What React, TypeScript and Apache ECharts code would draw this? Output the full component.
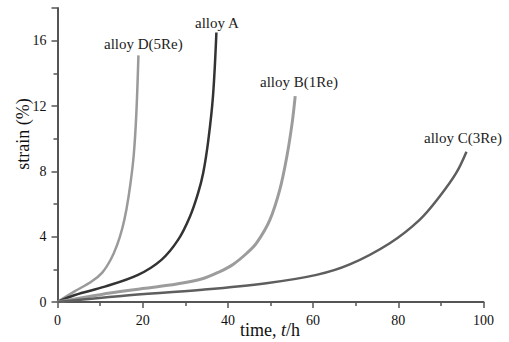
import React, { useEffect, useRef } from "react";
import * as echarts from "echarts";

const alloyD: [number, number][] = [[0,0],[4,0.65],[8,1.25],[10.5,1.8],[12.5,2.6],[14,3.5],[15.2,4.5],[16.2,5.7],[17.1,7.2],[17.9,9.0],[18.5,11.5],[19.0,15.1]];
const alloyA: [number, number][] = [[0,0],[4.1,0.43],[11.1,0.94],[18.9,1.66],[24.4,2.58],[28.3,3.8],[31.1,5.24],[33.0,6.67],[34.2,7.9],[35.4,9.9],[36.5,12.6],[37.3,16.5]];
const alloyB: [number, number][] = [[0,0],[10,0.45],[20,0.82],[28,1.1],[34,1.42],[38,1.85],[41.2,2.3],[44.5,3.0],[46.7,3.6],[49.8,5.0],[52.2,6.9],[53.9,9.0],[55.1,11.0],[55.8,12.6]];
const alloyC: [number, number][] = [[0,0],[15,0.37],[34,0.75],[49,1.15],[60.8,1.66],[68.6,2.3],[78,3.6],[85,5.03],[89.7,6.46],[93.6,7.9],[96,9.2]];

const yMajorTicks = [0, 4, 8, 12, 16, 18];
const yLabels = [0, 4, 8, 12, 16];
const yMinorTicks = [2, 6, 10, 14];

const FONT = "Liberation Serif";
const AXIS = "#555";

export default function App() {
  const ref = useRef<HTMLDivElement>(null);
  useEffect(() => {
    document.body.style.margin = "0";
    const chart = echarts.init(ref.current!, undefined, { renderer: "svg" });
    const line = (name: string, data: [number, number][], color: string, width: number) => ({
      name,
      type: "line",
      data,
      smooth: 0.35,
      showSymbol: false,
      lineStyle: { color, width },
      z: 3,
    });
    chart.setOption({
      animation: false,
      grid: { left: 57.5, right: 25.5, top: 8, bottom: 40, outerBoundsMode: "none", containLabel: false },
      xAxis: {
        type: "value",
        min: 0,
        max: 100,
        interval: 20,
        axisLine: { lineStyle: { color: AXIS, width: 2 } },
        axisTick: { length: 6, lineStyle: { color: AXIS, width: 1.5 } },
        minorTick: { show: true, splitNumber: 2, length: 4, lineStyle: { color: AXIS, width: 1.5 } },
        axisLabel: { fontFamily: FONT, fontSize: 14, color: "#111", margin: 11 },
        splitLine: { show: false },
        minorSplitLine: { show: false },
      },
      yAxis: [
        {
          type: "value",
          min: 0,
          max: 18,
          interval: 2,
          axisLine: { lineStyle: { color: AXIS, width: 2 } },
          axisTick: { customValues: yMajorTicks, length: 6, lineStyle: { color: AXIS, width: 1.5 } },
          axisLabel: { customValues: yLabels, fontFamily: FONT, fontSize: 14, color: "#111", margin: 11 },
          splitLine: { show: false },
        },
        {
          type: "value",
          min: 0,
          max: 18,
          interval: 2,
          position: "left",
          axisLine: { show: false },
          axisTick: { show: true, customValues: yMinorTicks, length: 4, lineStyle: { color: AXIS, width: 1.5 } },
          axisLabel: { show: false },
          splitLine: { show: false },
        },
      ],
      series: [
        line("alloy D(5Re)", alloyD, "#9a9a9a", 2.5),
        line("alloy A", alloyA, "#333333", 2.5),
        line("alloy B(1Re)", alloyB, "#9c9c9c", 3),
        line("alloy C(3Re)", alloyC, "#5e5e5e", 2.5),
      ],
      graphic: [
        { type: "text", left: 104, top: 36, style: { text: "alloy D(5Re)", font: `15px ${FONT}`, fill: "#222" } },
        { type: "text", left: 195, top: 15, style: { text: "alloy A", font: `15px ${FONT}`, fill: "#222" } },
        { type: "text", left: 260, top: 74, style: { text: "alloy B(1Re)", font: `15px ${FONT}`, fill: "#222" } },
        { type: "text", left: 424, top: 130, style: { text: "alloy C(3Re)", font: `15px ${FONT}`, fill: "#222" } },
        {
          type: "text",
          x: 270,
          y: 330,
          style: {
            text: "{a|time, }{b|t}{a|/h}",
            align: "center",
            verticalAlign: "middle",
            rich: {
              a: { fontFamily: FONT, fontSize: 18, fill: "#111" },
              b: { fontFamily: FONT, fontSize: 18, fontStyle: "italic", fill: "#111" },
            },
          },
        },
        {
          type: "text",
          x: 23,
          y: 134,
          rotation: Math.PI / 2,
          style: { text: "strain (%)", font: `18px ${FONT}`, fill: "#111", align: "center", verticalAlign: "middle" },
        },
      ],
    });
    return () => chart.dispose();
  }, []);
  return <div ref={ref} style={{ width: 509, height: 342 }} />;
}
